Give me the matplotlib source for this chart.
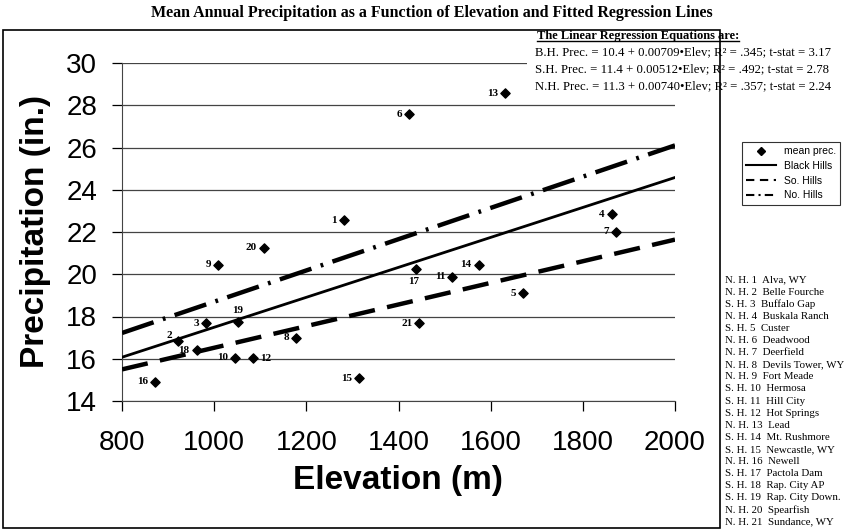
import matplotlib.pyplot as plt
from matplotlib.lines import Line2D
from matplotlib.patches import Rectangle

plt.rcParams['lines.scale_dashes'] = False

# station data
station_ids = [1, 2, 3, 4, 5, 6, 7, 8, 9, 10, 11, 12, 13, 14, 15, 16, 17, 18, 19, 20, 21]
elevation = [1281, 921, 982, 1863, 1670, 1423, 1871, 1178, 1008, 1045, 1517, 1084,
             1632, 1574, 1315, 872, 1439, 962, 1052, 1108, 1445]
precip = [22.55, 16.85, 17.68, 22.84, 19.10, 27.57, 22.01, 17.00, 20.44, 16.05, 19.88, 16.02,
          28.57, 20.44, 15.07, 14.91, 20.25, 16.41, 17.75, 21.26, 17.69]

region = ['N. H.', 'N. H.', 'S. H.', 'N. H.', 'S. H.', 'N. H.', 'N. H.', 'N. H.', 'N. H.', 'S. H.',
          'S. H.', 'S. H.', 'N. H.', 'S. H.', 'S. H.', 'N. H.', 'S. H.', 'S. H.', 'S. H.', 'N. H.', 'N. H.']
station_names = ['Alva, WY', 'Belle Fourche', 'Buffalo Gap', 'Buskala Ranch', 'Custer', 'Deadwood',
                 'Deerfield', 'Devils Tower, WY', 'Fort Meade', 'Hermosa', 'Hill City', 'Hot Springs',
                 'Lead', 'Mt. Rushmore', 'Newcastle, WY', 'Newell', 'Pactola Dam', 'Rap. City AP',
                 'Rap. City Down.', 'Spearfish', 'Sundance, WY']

# regression lines (intercept, slope) from the equations on the chart
line_names = ['Black Hills', 'So. Hills', 'No. Hills']
intercepts = [10.4, 11.4, 11.3]
slopes = [0.00709, 0.00512, 0.00740]
x_range = [800, 2000]

equations = ['B.H. Prec. = 10.4 + 0.00709\u2022Elev; R\u00b2 = .345; t-stat = 3.17',
             'S.H. Prec. = 11.4 + 0.00512\u2022Elev; R\u00b2 = .492; t-stat = 2.78',
             'N.H. Prec. = 11.3 + 0.00740\u2022Elev; R\u00b2 = .357; t-stat = 2.24']

# label placement around each marker (points)
label_off = {2: (-4, 4, 'right'), 12: (5, 0, 'left'), 17: (-2, -9, 'center'),
             19: (0, 8, 'center')}

W, H = 848, 530
fig = plt.figure(figsize=(W / 100, H / 100), dpi=100)
ax = fig.add_axes([122 / W, 1 - 401 / H, 553 / W, 338 / H])

serif = 'Liberation Serif'
sans = 'Liberation Sans'

ax.scatter(elevation, precip, marker='D', s=22, color='black', zorder=4)
for sid, x, y in zip(station_ids, elevation, precip):
    dx, dy, ha = label_off.get(sid, (-5, 0, 'right'))
    ax.annotate(str(sid), (x, y), xytext=(dx, dy), textcoords='offset points',
                ha=ha, va='center', fontsize=8, family=serif, fontweight='bold')

styles = [dict(ls='-', lw=2.0), dict(ls=(0, (19, 9)), lw=3.2), dict(ls=(0, (24, 7, 2, 7)), lw=3.2)]
for b0, b1, st in zip(intercepts, slopes, styles):
    ax.plot(x_range, [b0 + b1 * x for x in x_range], color='black', zorder=3, **st)

ax.set_xlim(800, 2000)
ax.set_ylim(14, 30)
ax.set_xticks(range(800, 2001, 200))
ax.set_yticks(range(14, 31, 2))
ax.grid(axis='y', color='#444444', lw=0.9)
ax.set_axisbelow(True)
for s in ['top', 'right']:
    ax.spines[s].set_visible(False)
ax.spines['bottom'].set_color('#444444')
ax.spines['left'].set_color('#444444')
ax.tick_params(axis='y', length=7, width=0.9, pad=11, labelsize=20)
ax.tick_params(axis='x', length=7, width=0.9, pad=14, labelsize=20)
for lab in ax.get_xticklabels() + ax.get_yticklabels():
    lab.set_family(sans)

fig.text(398 / W, 1 - 480 / H, 'Elevation (m)', ha='center', va='center',
         fontsize=24, fontweight='bold', family=sans)
fig.text(36 / W, 1 - 232 / H, 'Precipitation (in.)', ha='center', va='center',
         rotation=90, fontsize=24, fontweight='bold', family=sans)

fig.text(432 / W, 1 - 13 / H,
         'Mean Annual Precipitation as a Function of Elevation and Fitted Regression Lines',
         ha='center', va='center', fontsize=11.5, fontweight='bold', family=serif)

# outer frame
fig.add_artist(Rectangle((3 / W, 1 - 528 / H), 717 / W, 498 / H, transform=fig.transFigure,
                         fill=False, lw=1.2, color='black'))

# equation block
fig.add_artist(Rectangle((527 / W, 1 - 93 / H), 192 / W, 62 / H, transform=fig.transFigure,
                         facecolor='white', edgecolor='none', zorder=2))
hdr = fig.text(537 / W, 1 - 36 / H, 'The Linear Regression Equations are:', ha='left',
               va='center', fontsize=9, fontweight='bold', family=serif, zorder=3)
for i, eq in enumerate(equations):
    fig.text(535 / W, 1 - (52 + 17 * i) / H, eq, ha='left', va='center',
             fontsize=9.2, family=serif, zorder=3)
fig.canvas.draw()
bb = hdr.get_window_extent().transformed(fig.transFigure.inverted())
fig.add_artist(Line2D([bb.x0, bb.x1], [bb.y0 + 0.002, bb.y0 + 0.002], transform=fig.transFigure,
                      color='black', lw=1, zorder=3))

# legend
handles = [Line2D([], [], ls='none', marker='D', ms=4, color='black'),
           Line2D([], [], color='black', lw=1.5),
           Line2D([], [], color='black', lw=1.5, ls=(0, (6, 4))),
           Line2D([], [], color='black', lw=1.5, ls=(0, (6, 3, 1.5, 3)))]
leg = fig.legend(handles, ['mean prec.'] + line_names, loc='upper left',
                 bbox_to_anchor=(737 / W, 1 - 137 / H), frameon=True, fancybox=False,
                 edgecolor='black', handlelength=2.8, borderpad=0.4,
                 labelspacing=0.45, prop={'family': sans, 'size': 7.5})
leg.get_frame().set_linewidth(0.8)

# station list
for i, (rg, sid, nm) in enumerate(zip(region, station_ids, station_names)):
    y = 1 - (280 + 12.1 * i) / H
    fig.text(725 / W, y, f'{rg} {sid}  {nm}', ha='left', va='center',
             fontsize=7.8, family=serif)

fig.savefig('out.png', dpi=100)
